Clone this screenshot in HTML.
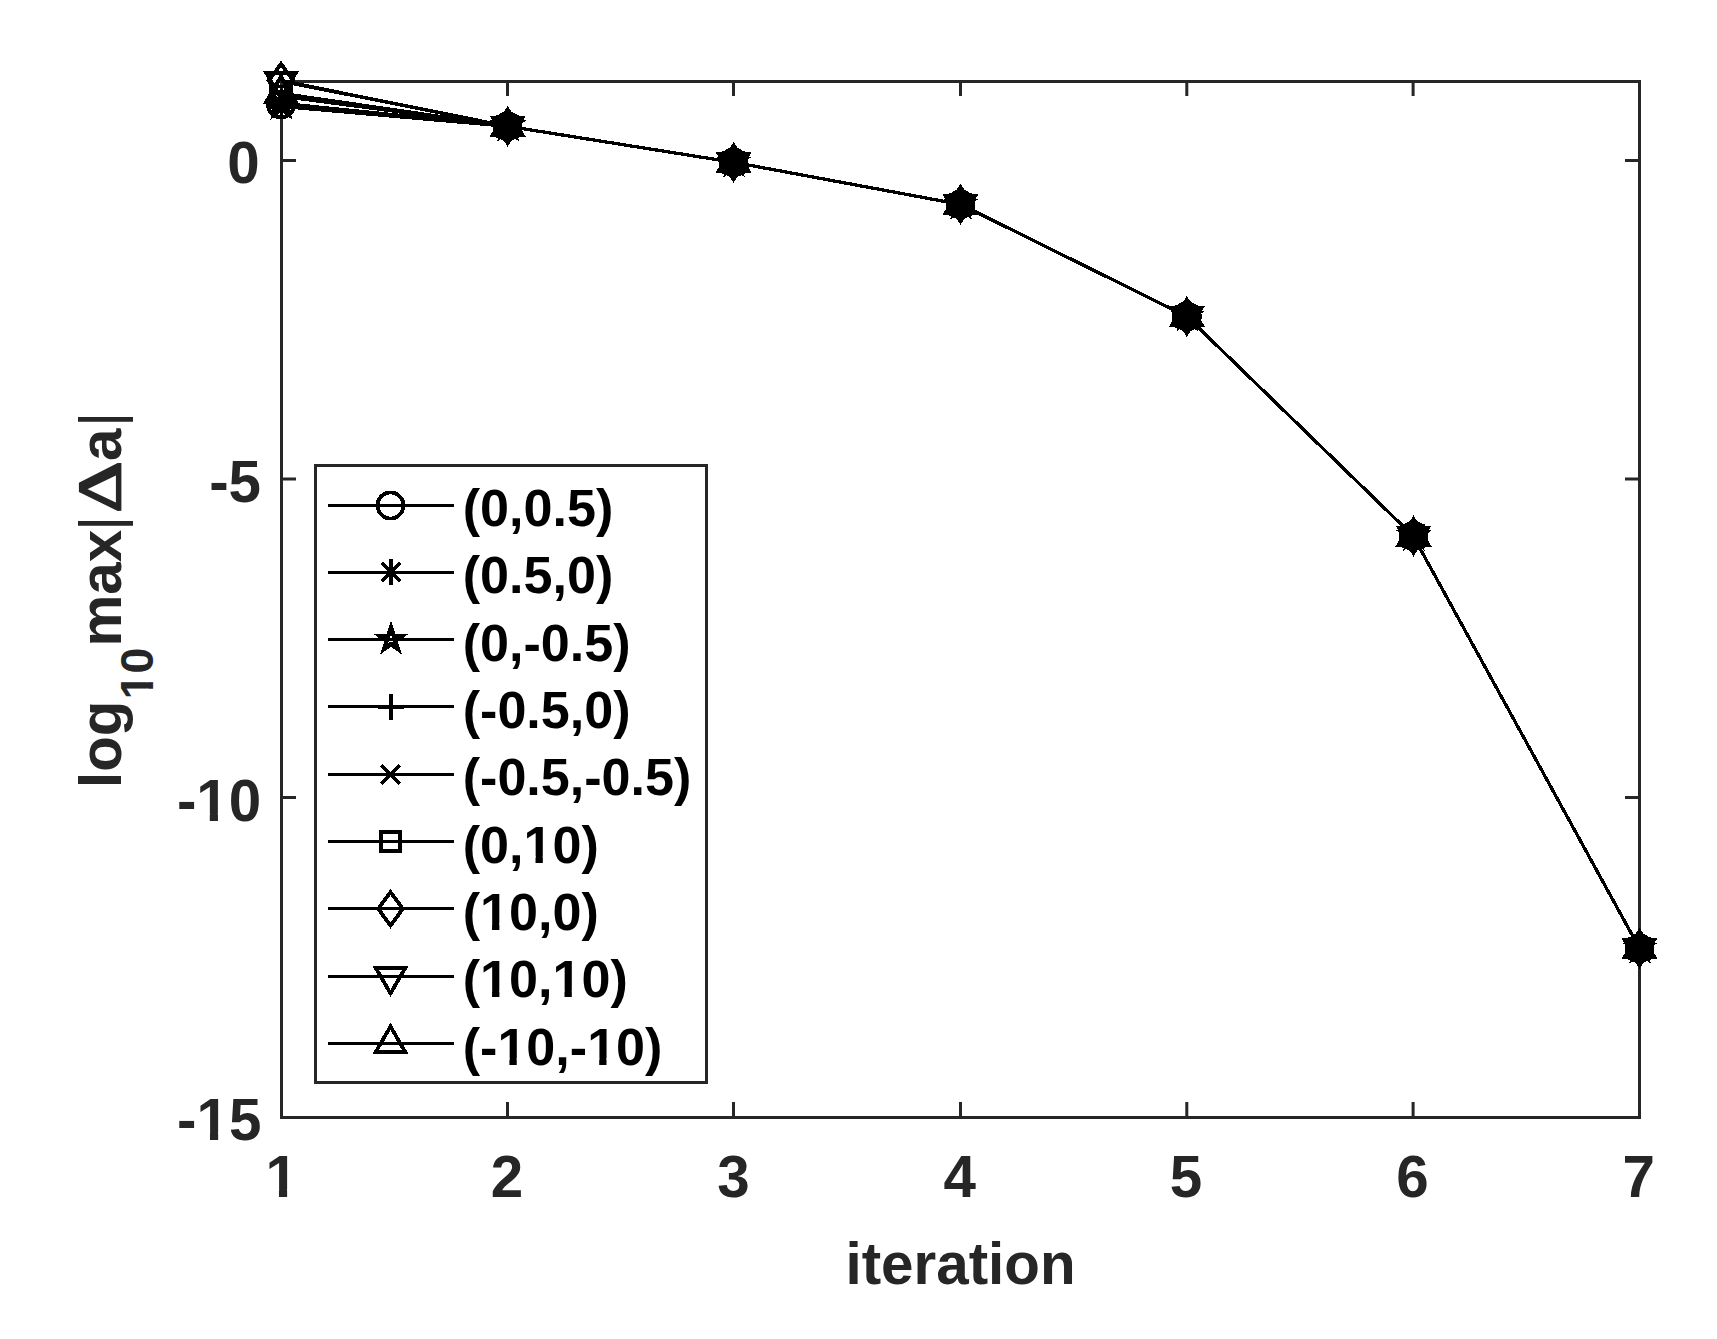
<!DOCTYPE html>
<html lang="en">
<head>
<meta charset="utf-8">
<title>Convergence: log10 max|&#916;a| versus iteration</title>
<style>
html,body{margin:0;padding:0;background:#fff;}
body{width:1717px;height:1339px;overflow:hidden;}
svg{display:block;}
text{font-family:"Liberation Sans", Arial, Helvetica, sans-serif;font-weight:bold;}
.ax{fill:#262626;font-size:58.33px;}
.lg{fill:#000;font-size:52.1px;}
.ln{fill:none;stroke:#000;stroke-width:3.3;stroke-linejoin:miter;stroke-linecap:butt;}
.mk{fill:none;stroke:#000;stroke-width:3.8;stroke-linejoin:miter;stroke-miterlimit:10;stroke-linecap:butt;}
.sp{fill:none;stroke:#262626;stroke-width:3;stroke-linecap:square;}
.tk{fill:none;stroke:#262626;stroke-width:3;stroke-linecap:butt;}
</style>
</head>
<body>
<svg width="1717" height="1339" viewBox="0 0 1717 1339">
<rect x="0" y="0" width="1717" height="1339" fill="#ffffff"/>

<g id="axes">
<rect class="sp" x="281.5" y="81.5" width="1358.0" height="1036.0"/>
<path class="tk" d="M281.50 1117.5V1102M281.50 81.5V96"/>
<path class="tk" d="M507.50 1117.5V1102M507.50 81.5V96"/>
<path class="tk" d="M733.50 1117.5V1102M733.50 81.5V96"/>
<path class="tk" d="M960.50 1117.5V1102M960.50 81.5V96"/>
<path class="tk" d="M1186.80 1117.5V1102M1186.80 81.5V96"/>
<path class="tk" d="M1413.10 1117.5V1102M1413.10 81.5V96"/>
<path class="tk" d="M1639.50 1117.5V1102M1639.50 81.5V96"/>
<path class="tk" d="M281.5 160.50H296M1639.5 160.50H1625"/>
<path class="tk" d="M281.5 479.00H296M1639.5 479.00H1625"/>
<path class="tk" d="M281.5 797.50H296M1639.5 797.50H1625"/>
<path class="tk" d="M281.5 1117.50H296M1639.5 1117.50H1625"/>
</g>
<g id="ticklabels" class="ax">
<text x="281.70" y="1197" text-anchor="middle">1</text><rect x="268.10" y="1189.45" width="10.84" height="8.75" fill="#fff"/><rect x="287.12" y="1189.45" width="10.17" height="8.75" fill="#fff"/>
<text x="507.03" y="1197" text-anchor="middle">2</text>
<text x="733.37" y="1197" text-anchor="middle">3</text>
<text x="959.70" y="1197" text-anchor="middle">4</text>
<text x="1186.03" y="1197" text-anchor="middle">5</text>
<text x="1412.37" y="1197" text-anchor="middle">6</text>
<text x="1638.70" y="1197" text-anchor="middle">7</text>
<text x="259.6" y="182.7" text-anchor="end">0</text>
<text x="261.0" y="501.7" text-anchor="end">-5</text>
<text x="261.2" y="820.6" text-anchor="end">-10</text><rect x="198.94" y="813.05" width="10.84" height="8.75" fill="#fff"/><rect x="217.96" y="813.05" width="10.17" height="8.75" fill="#fff"/>
<text x="261.4" y="1140.0" text-anchor="end">-15</text><rect x="199.14" y="1132.45" width="10.84" height="8.75" fill="#fff"/><rect x="218.16" y="1132.45" width="10.17" height="8.75" fill="#fff"/>
</g>
<text class="ax" x="960.5" y="1283.8" text-anchor="middle">iteration</text>
<g id="ylabel" class="ax" transform="translate(121 784) rotate(-90)">
<text x="-4.0" y="0" >log</text>
<text x="84.5" y="0" style="font-size:46.7px" dy="32">10</text>
<rect x="86.60" y="25.64" width="8.65" height="7.56" fill="#fff"/><rect x="101.83" y="25.64" width="8.14" height="7.56" fill="#fff"/>
<text x="137.5" y="0" >max</text>
<text x="253.0" y="0" style="font-weight:normal">|</text>
<text x="323.0" y="0" >a</text>
<text x="357.0" y="0" style="font-weight:normal">|</text>
<text transform="translate(271.5 -0.8) scale(1.30 1)" x="0" y="0" style="font-size:61px;font-weight:normal;font-family:'Liberation Serif','DejaVu Serif',serif;stroke:#262626;stroke-width:2.2px;stroke-linejoin:miter">&#916;</text>
</g>
<g id="data" shape-rendering="crispEdges">
<polyline class="ln" points="281.50,104.50 507.83,126.30 734.17,162.40 960.50,204.40 1186.83,316.40 1413.17,536.00 1639.50,948.40"/>
<g class="mk"><circle cx="281.00" cy="104.50" r="13" /><circle cx="507.63" cy="126.30" r="13" /><circle cx="733.57" cy="162.40" r="13" /><circle cx="960.50" cy="204.40" r="13" /><circle cx="1186.83" cy="316.40" r="13" /><circle cx="1413.47" cy="536.00" r="13" /><circle cx="1639.50" cy="948.40" r="13" /></g>
<polyline class="ln" points="281.50,106.40 507.83,126.30 734.17,162.40 960.50,204.40 1186.83,316.40 1413.17,536.00 1639.50,948.40"/>
<g class="mk"><path d="M268.50 106.40H294.50M281.50 92.80V118.80M272.10 96.40L290.90 115.20M272.10 115.20L290.90 96.40" /><path d="M495.13 126.30H521.13M508.13 112.70V138.70M498.73 116.30L517.53 135.10M498.73 135.10L517.53 116.30" /><path d="M721.07 162.40H747.07M734.07 148.80V174.80M724.67 152.40L743.47 171.20M724.67 171.20L743.47 152.40" /><path d="M948.00 204.40H974.00M961.00 190.80V216.80M951.60 194.40L970.40 213.20M951.60 213.20L970.40 194.40" /><path d="M1174.33 316.40H1200.33M1187.33 302.80V328.80M1177.93 306.40L1196.73 325.20M1177.93 325.20L1196.73 306.40" /><path d="M1400.97 536.00H1426.97M1413.97 522.40V548.40M1404.57 526.00L1423.37 544.80M1404.57 544.80L1423.37 526.00" /><path d="M1627.00 948.40H1653.00M1640.00 934.80V960.80M1630.60 938.40L1649.40 957.20M1630.60 957.20L1649.40 938.40" /></g>
<polyline class="ln" points="281.50,104.60 507.83,126.30 734.17,162.40 960.50,204.40 1186.83,316.40 1413.17,536.00 1639.50,948.40"/>
<g class="mk"><path d="M281.50 92.80L284.15 100.95L292.72 100.95L285.79 105.99L288.44 114.15L281.50 109.11L274.56 114.15L277.21 105.99L270.28 100.95L278.85 100.95Z" style="stroke-width:4.4" /><path d="M508.13 114.50L510.78 122.65L519.36 122.65L512.42 127.69L515.07 135.85L508.13 130.81L501.20 135.85L503.85 127.69L496.91 122.65L505.48 122.65Z" style="stroke-width:4.4" /><path d="M734.07 150.60L736.72 158.75L745.29 158.75L738.35 163.79L741.00 171.95L734.07 166.91L727.13 171.95L729.78 163.79L722.84 158.75L731.42 158.75Z" style="stroke-width:4.4" /><path d="M961.00 192.60L963.65 200.75L972.22 200.75L965.29 205.79L967.94 213.95L961.00 208.91L954.06 213.95L956.71 205.79L949.78 200.75L958.35 200.75Z" style="stroke-width:4.4" /><path d="M1187.33 304.60L1189.98 312.75L1198.56 312.75L1191.62 317.79L1194.27 325.95L1187.33 320.91L1180.40 325.95L1183.05 317.79L1176.11 312.75L1184.68 312.75Z" style="stroke-width:4.4" /><path d="M1413.97 524.20L1416.62 532.35L1425.19 532.35L1418.25 537.39L1420.90 545.55L1413.97 540.51L1407.03 545.55L1409.68 537.39L1402.74 532.35L1411.32 532.35Z" style="stroke-width:4.4" /><path d="M1640.00 936.60L1642.65 944.75L1651.22 944.75L1644.29 949.79L1646.94 957.95L1640.00 952.91L1633.06 957.95L1635.71 949.79L1628.78 944.75L1637.35 944.75Z" style="stroke-width:4.4" /></g>
<polyline class="ln" points="281.50,106.00 507.83,126.30 734.17,162.40 960.50,204.40 1186.83,316.40 1413.17,536.00 1639.50,948.40"/>
<g class="mk"><path d="M268.50 106.60H294.50M281.50 93.00V119.00" /><path d="M495.13 126.90H521.13M508.13 113.30V139.30" /><path d="M721.07 163.00H747.07M734.07 149.40V175.40" /><path d="M948.00 205.00H974.00M961.00 191.40V217.40" /><path d="M1174.33 317.00H1200.33M1187.33 303.40V329.40" /><path d="M1400.97 536.60H1426.97M1413.97 523.00V549.00" /><path d="M1627.00 949.00H1653.00M1640.00 935.40V961.40" /></g>
<polyline class="ln" points="281.50,103.30 507.83,126.30 734.17,162.40 960.50,204.40 1186.83,316.40 1413.17,536.00 1639.50,948.40"/>
<g class="mk"><path d="M271.60 93.90L290.40 112.70M271.60 112.70L290.40 93.90" /><path d="M498.23 116.90L517.03 135.70M498.23 135.70L517.03 116.90" /><path d="M724.17 153.00L742.97 171.80M724.17 171.80L742.97 153.00" /><path d="M951.10 195.00L969.90 213.80M951.10 213.80L969.90 195.00" /><path d="M1177.43 307.00L1196.23 325.80M1177.43 325.80L1196.23 307.00" /><path d="M1404.07 526.60L1422.87 545.40M1404.07 545.40L1422.87 526.60" /><path d="M1630.10 939.00L1648.90 957.80M1630.10 957.80L1648.90 939.00" /></g>
<polyline class="ln" points="281.50,96.20 507.83,126.30 734.17,162.40 960.50,204.40 1186.83,316.40 1413.17,536.00 1639.50,948.40"/>
<g class="mk"><rect x="271.25" y="86.45" width="19.50" height="19.50" /><rect x="497.88" y="116.55" width="19.50" height="19.50" /><rect x="723.82" y="152.65" width="19.50" height="19.50" /><rect x="950.75" y="194.65" width="19.50" height="19.50" /><rect x="1177.08" y="306.65" width="19.50" height="19.50" /><rect x="1403.72" y="526.25" width="19.50" height="19.50" /><rect x="1629.75" y="938.65" width="19.50" height="19.50" /></g>
<polyline class="ln" points="281.50,80.70 507.83,126.30 734.17,162.40 960.50,204.40 1186.83,316.40 1413.17,536.00 1639.50,948.40"/>
<g class="mk"><path d="M281.00 63.90L293.30 80.70L281.00 97.50L268.70 80.70Z" /><path d="M507.63 109.50L519.93 126.30L507.63 143.10L495.33 126.30Z" /><path d="M733.57 145.60L745.87 162.40L733.57 179.20L721.27 162.40Z" /><path d="M960.50 187.60L972.80 204.40L960.50 221.20L948.20 204.40Z" /><path d="M1186.83 299.60L1199.13 316.40L1186.83 333.20L1174.53 316.40Z" /><path d="M1413.47 519.20L1425.77 536.00L1413.47 552.80L1401.17 536.00Z" /><path d="M1639.50 931.60L1651.80 948.40L1639.50 965.20L1627.20 948.40Z" /></g>
<polyline class="ln" points="281.50,81.30 507.83,126.30 734.17,162.40 960.50,204.40 1186.83,316.40 1413.17,536.00 1639.50,948.40"/>
<g class="mk"><path d="M281.00 98.20L295.80 72.70L266.20 72.70Z" /><path d="M507.63 143.20L522.43 117.70L492.83 117.70Z" /><path d="M733.57 179.30L748.37 153.80L718.77 153.80Z" /><path d="M960.50 221.30L975.30 195.80L945.70 195.80Z" /><path d="M1186.83 333.30L1201.63 307.80L1172.03 307.80Z" /><path d="M1413.47 552.90L1428.27 527.40L1398.67 527.40Z" /><path d="M1639.50 965.30L1654.30 939.80L1624.70 939.80Z" /></g>
<polyline class="ln" points="281.50,93.40 507.83,126.30 734.17,162.40 960.50,204.40 1186.83,316.40 1413.17,536.00 1639.50,948.40"/>
<g class="mk"><path d="M281.00 76.50L295.80 102.00L266.20 102.00Z" /><path d="M507.63 109.40L522.43 134.90L492.83 134.90Z" /><path d="M733.57 145.50L748.37 171.00L718.77 171.00Z" /><path d="M960.50 187.50L975.30 213.00L945.70 213.00Z" /><path d="M1186.83 299.50L1201.63 325.00L1172.03 325.00Z" /><path d="M1413.47 519.10L1428.27 544.60L1398.67 544.60Z" /><path d="M1639.50 931.50L1654.30 957.00L1624.70 957.00Z" /></g>
</g>
<g id="legend">
<rect x="315.5" y="465.5" width="391.0" height="617.0" fill="#fff" stroke="#262626" stroke-width="3"/>
<g shape-rendering="crispEdges"><path class="ln" style="stroke-width:3" d="M328 505.50H454"/><g class="mk"><circle cx="390.50" cy="505.50" r="13" /></g></g>
<text class="lg" x="462.7" y="526.00">(0,0.5)</text>
<g shape-rendering="crispEdges"><path class="ln" style="stroke-width:3" d="M328 572.50H454"/><g class="mk"><path d="M378.00 572.50H404.00M391.00 558.90V584.90M381.60 562.50L400.40 581.30M381.60 581.30L400.40 562.50" /></g></g>
<text class="lg" x="462.7" y="593.35">(0.5,0)</text>
<g shape-rendering="crispEdges"><path class="ln" style="stroke-width:3" d="M328 639.50H454"/><g class="mk"><path d="M391.00 627.70L393.65 635.85L402.22 635.85L395.29 640.89L397.94 649.05L391.00 644.01L384.06 649.05L386.71 640.89L379.78 635.85L388.35 635.85Z" style="stroke-width:4.4" /></g></g>
<text class="lg" x="462.7" y="660.70">(0,-0.5)</text>
<g shape-rendering="crispEdges"><path class="ln" style="stroke-width:3" d="M328 706.50H454"/><g class="mk"><path d="M378.00 707.10H404.00M391.00 693.50V719.50" /></g></g>
<text class="lg" x="462.7" y="728.05">(-0.5,0)</text>
<g shape-rendering="crispEdges"><path class="ln" style="stroke-width:3" d="M328 774.50H454"/><g class="mk"><path d="M381.10 765.10L399.90 783.90M381.10 783.90L399.90 765.10" /></g></g>
<text class="lg" x="462.7" y="795.40">(-0.5,-0.5)</text>
<g shape-rendering="crispEdges"><path class="ln" style="stroke-width:3" d="M328 841.50H454"/><g class="mk"><rect x="380.75" y="831.75" width="19.50" height="19.50" /></g></g>
<text class="lg" x="462.7" y="862.75">(0,10)</text><rect x="525.84" y="855.84" width="9.67" height="8.11" fill="#fff"/><rect x="542.83" y="855.84" width="9.09" height="8.11" fill="#fff"/>
<g shape-rendering="crispEdges"><path class="ln" style="stroke-width:3" d="M328 908.80H454"/><g class="mk"><path d="M390.50 892.00L402.80 908.80L390.50 925.60L378.20 908.80Z" /></g></g>
<text class="lg" x="462.7" y="930.10">(10,0)</text><rect x="482.39" y="923.19" width="9.67" height="8.11" fill="#fff"/><rect x="499.38" y="923.19" width="9.09" height="8.11" fill="#fff"/>
<g shape-rendering="crispEdges"><path class="ln" style="stroke-width:3" d="M328 976.50H454"/><g class="mk"><path d="M390.50 993.40L405.30 967.90L375.70 967.90Z" /></g></g>
<text class="lg" x="462.7" y="997.45">(10,10)</text><rect x="482.39" y="990.54" width="9.67" height="8.11" fill="#fff"/><rect x="499.38" y="990.54" width="9.09" height="8.11" fill="#fff"/><rect x="554.82" y="990.54" width="9.67" height="8.11" fill="#fff"/><rect x="571.80" y="990.54" width="9.09" height="8.11" fill="#fff"/>
<g shape-rendering="crispEdges"><path class="ln" style="stroke-width:3" d="M328 1043.40H454"/><g class="mk"><path d="M390.50 1026.50L405.30 1052.00L375.70 1052.00Z" /></g></g>
<text class="lg" x="462.7" y="1064.80">(-10,-10)</text><rect x="499.74" y="1057.89" width="9.67" height="8.11" fill="#fff"/><rect x="516.73" y="1057.89" width="9.09" height="8.11" fill="#fff"/><rect x="589.52" y="1057.89" width="9.67" height="8.11" fill="#fff"/><rect x="606.50" y="1057.89" width="9.09" height="8.11" fill="#fff"/>
</g>
</svg>
</body>
</html>
